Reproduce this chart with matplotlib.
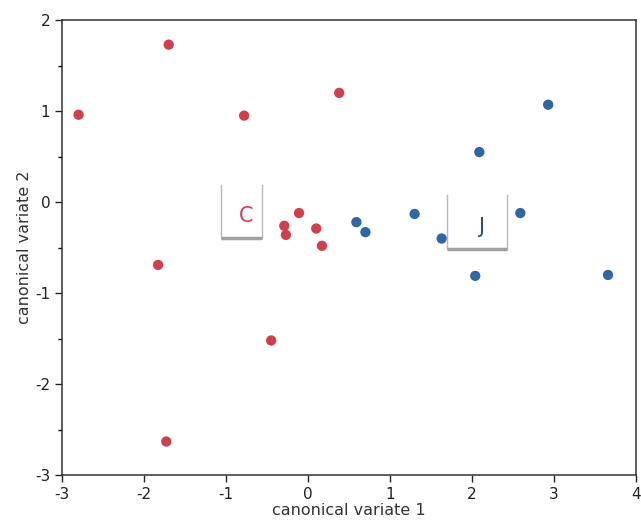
import numpy as np
import matplotlib
matplotlib.use("Agg")
import matplotlib.pyplot as plt

plt.rcParams["axes.unicode_minus"] = False

# group C (red)
c_x = [-2.80, -1.70, -0.78, 0.38, -1.83, -0.45, -1.73, -0.29, -0.27, -0.11, 0.10, 0.17]
c_y = [0.96, 1.73, 0.95, 1.20, -0.69, -1.52, -2.63, -0.26, -0.36, -0.12, -0.29, -0.48]
# group J (blue)
j_x = [2.93, 2.09, 0.59, 0.70, 1.30, 1.63, 2.59, 2.04, 3.66]
j_y = [1.07, 0.55, -0.22, -0.33, -0.13, -0.40, -0.12, -0.81, -0.80]

red = "#cf3f4c"
blue = "#2f66a3"

fig = plt.figure(figsize=(6.41, 5.28), dpi=100)
ax = fig.add_axes([0.097, 0.100, 0.895, 0.862])

ax.scatter(c_x, c_y, s=55, color=red, edgecolors="none", zorder=3)
ax.scatter(j_x, j_y, s=55, color=blue, edgecolors="none", zorder=3)


def label_box(ax, x0, x1, y0, y1, text, color):
    # open-topped bracket with a grey shadow along the bottom
    ax.plot([x0, x0], [y1, y0], color="#b8b8b8", lw=1.0, zorder=2)
    ax.plot([x1, x1], [y1, y0], color="#b8b8b8", lw=1.0, zorder=2)
    ax.plot([x0, x1], [y0, y0], color="#a0a0a0", lw=2.5, zorder=2, solid_capstyle="butt")
    ax.text((x0 + x1) / 2 + 0.05, (y0 + y1) / 2 - 0.05, text, color=color,
            fontsize=15, ha="center", va="center")


label_box(ax, -1.06, -0.56, -0.39, 0.19, "C", red)
label_box(ax, 1.70, 2.43, -0.52, 0.08, "J", "#24508a")

ax.set_xlim(-3, 4)
ax.set_ylim(-3, 2)
ax.set_xticks(range(-3, 5))
ax.set_yticks(range(-3, 3))
ax.set_yticks(np.arange(-2.5, 2, 1.0), minor=True)
ax.tick_params(direction="out", length=5, width=1, labelsize=11, colors="#222222")
ax.tick_params(which="minor", length=3, width=1)
for s in ax.spines.values():
    s.set_linewidth(1.1)
    s.set_color("#333333")

ax.set_xlabel("canonical variate 1", fontsize=11.5, color="#333333", labelpad=1)
ax.set_ylabel("canonical variate 2", fontsize=11.5, color="#333333", labelpad=2)

fig.savefig("out.png", dpi=100)
